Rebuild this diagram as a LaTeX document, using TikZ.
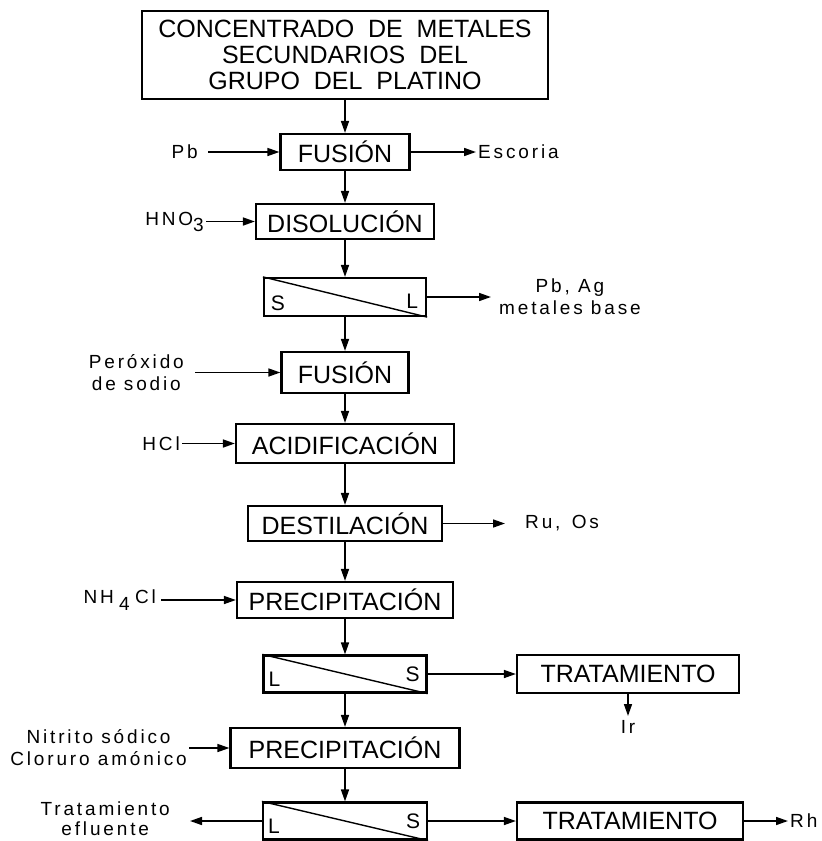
\documentclass[tikz,border=0pt]{standalone}
\usepackage{fontspec}
\setmainfont{Liberation Sans}
\newfontfamily\boxfont{Liberation Sans}
\newfontfamily\lblfont[LetterSpace=15]{Liberation Sans}
\usetikzlibrary{shapes,arrows.meta}

\tikzset{
    proc/.style={rectangle, draw, line width=2.2pt, inner sep=0pt, align=center,
        font=\boxfont\fontsize{25}{26}\selectfont},
    sepbox/.style={rectangle, draw, line width=2.2pt, inner sep=0pt, minimum height=37pt},
    sepletter/.style={inner sep=0pt, font=\boxfont\fontsize{21}{21}\selectfont},
    lbl/.style={inner sep=2pt, align=center, font=\lblfont\fontsize{19}{22}\selectfont},
    flow/.style={-{Triangle[length=12pt,width=8pt]}, line width=1.6pt}
}

\begin{document}
\begin{tikzpicture}[x=1pt, y=-1pt]
    \useasboundingbox (0,0) rectangle (822,841);

    % Main column
    \node[proc, minimum width=406pt, minimum height=88pt] (conc) at (345,55)
        {CONCENTRADO\ \ DE\ \ METALES\\SECUNDARIOS\ \ DEL\\GRUPO\ \ DEL\ \ PLATINO};
    \node[proc, minimum width=129pt, minimum height=36pt] (fus1) at (345,152) {FUSIÓN};
    \node[proc, minimum width=178pt, minimum height=35pt] (disol) at (345,221.5) {DISOLUCIÓN};
    \node[sepbox, minimum width=162pt, minimum height=38pt] (sep1) at (345,297) {};
    \node[proc, minimum width=127pt, minimum height=41pt] (fus2) at (345,372.5) {FUSIÓN};
    \node[proc, minimum width=218pt, minimum height=39pt] (acid) at (345,443.5) {ACIDIFICACIÓN};
    \node[proc, minimum width=194pt, minimum height=35pt] (dest) at (345,523.5) {DESTILACIÓN};
    \node[proc, minimum width=216pt, minimum height=36pt] (prec1) at (345,600) {PRECIPITACIÓN};
    \node[sepbox, minimum width=163pt] (sep2) at (345,674) {};
    \node[proc, minimum width=229pt, minimum height=40pt] (prec2) at (345,748) {PRECIPITACIÓN};
    \node[sepbox, minimum width=164pt] (sep3) at (345,821) {};

    % Side treatments
    \node[proc, minimum width=222pt, minimum height=38pt] (trat1) at (628,674) {TRATAMIENTO};
    \node[proc, minimum width=226pt, minimum height=37pt] (trat2) at (630,821) {TRATAMIENTO};

    % Separators (diagonal + phases)
    \draw[line width=1.4pt] (sep1.north west) -- (sep1.south east);
    \node[sepletter] (sep1s) at ([xshift=15pt, yshift=14pt]sep1.south west) {S};
    \node[sepletter] (sep1l) at ([xshift=-15pt, yshift=16pt]sep1.south east) {L};
    \draw[line width=1.4pt] (sep2.north west) -- (sep2.south east);
    \node[sepletter] (sep2l) at ([xshift=12pt, yshift=14pt]sep2.south west) {L};
    \node[sepletter] (sep2s) at ([xshift=-15pt, yshift=19pt]sep2.south east) {S};
    \draw[line width=1.4pt] (sep3.north west) -- (sep3.south east);
    \node[sepletter] (sep3l) at ([xshift=12pt, yshift=14pt]sep3.south west) {L};
    \node[sepletter] (sep3s) at ([xshift=-15pt, yshift=19pt]sep3.south east) {S};

    % Reagents in
    \node[lbl, anchor=east] (pb) at (200,152) {Pb};
    \node[lbl, anchor=east] (hno) at (206,221.5) {HNO\raisebox{-6pt}{3}};
    \node[lbl, anchor=east] (perox) at (186,372.5) {Peróxido\\de sodio};
    \node[lbl, anchor=east] (hcl) at (182,443.5) {HCl};
    \node[lbl, anchor=east] (nh) at (158,600) {NH\;\raisebox{-7pt}{4}\;Cl};
    \node[lbl, anchor=east] (nitr) at (189,748) {Nitrito sódico\\Cloruro amónico};

    % Products out
    \node[lbl, anchor=west] (esc) at (476,152) {Escoria};
    \node[lbl, anchor=west] (pbag) at (497,297) {Pb, Ag\\metales base};
    \node[lbl, anchor=west] (ruos) at (523,523.5) {Ru,\, Os};
    \node[lbl, anchor=north, inner sep=4pt] (ir) at (628,716) {Ir};
    \node[lbl, anchor=west] (rh) at (788,821) {Rh};
    \node[lbl, anchor=east, font=\lblfont\fontsize{19}{20}\selectfont] (eflu) at (172,819) {Tratamiento\\efluente};

    % Main flow
    \draw[flow] (conc) -- (fus1);
    \draw[flow] (fus1) -- (disol);
    \draw[flow] (disol) -- (sep1);
    \draw[flow] (sep1) -- (fus2);
    \draw[flow] (fus2) -- (acid);
    \draw[flow] (acid) -- (dest);
    \draw[flow] (dest) -- (prec1);
    \draw[flow] (prec1) -- (sep2);
    \draw[flow] (sep2) -- (prec2);
    \draw[flow] (prec2) -- (sep3);

    % Inputs
    \draw[flow, shorten <=8pt] (pb) -- (fus1);
    \draw[flow] (hno) -- (disol);
    \draw[flow, shorten <=9pt] (perox) -- (fus2);
    \draw[flow] (hcl) -- (acid);
    \draw[flow, shorten <=3pt] (nh) -- (prec1);
    \draw[flow] (nitr) -- (prec2);

    % Outputs
    \draw[flow] (fus1) -- (esc);
    \draw[flow, shorten >=6pt] (sep1) -- (pbag);
    \draw[flow, shorten >=18pt] (dest) -- (ruos);
    \draw[flow] (sep2) -- (trat1);
    \draw[flow] (trat1) -- (ir);
    \draw[flow] (sep3) -- (trat2);
    \draw[flow] (trat2) -- (rh);
    \draw[flow, shorten >=18pt] (sep3) -- (eflu.east |- sep3);
\end{tikzpicture}
\end{document}
